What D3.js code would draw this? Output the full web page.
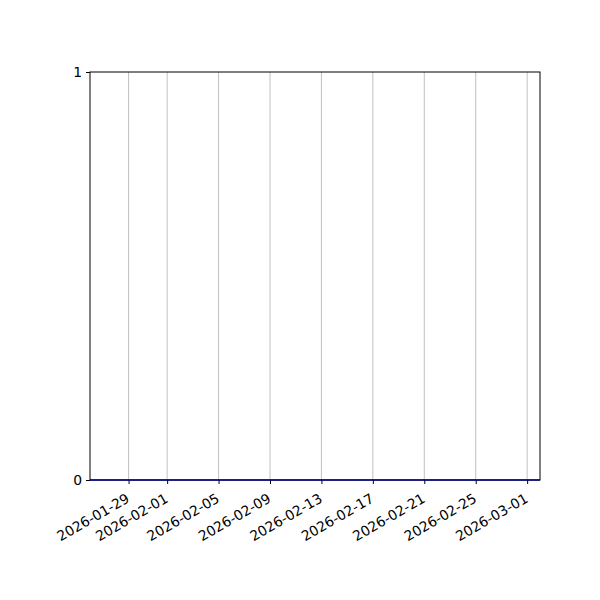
<!DOCTYPE html>
<html>
<meta charset="UTF-8">
<script src="https://d3js.org/d3.v7.min.js"></script>
<style>
  body { margin: 0; background: white; }
  text { font-family: "DejaVu Sans", sans-serif; }
</style>
<body>
<svg id="viz" width="600" height="600"></svg>
<script>
// daily series, all zero
var dates = ["2026-01-26","2026-01-27","2026-01-28","2026-01-29","2026-01-30","2026-01-31",
  "2026-02-01","2026-02-02","2026-02-03","2026-02-04","2026-02-05","2026-02-06","2026-02-07",
  "2026-02-08","2026-02-09","2026-02-10","2026-02-11","2026-02-12","2026-02-13","2026-02-14",
  "2026-02-15","2026-02-16","2026-02-17","2026-02-18","2026-02-19","2026-02-20","2026-02-21",
  "2026-02-22","2026-02-23","2026-02-24","2026-02-25","2026-02-26","2026-02-27","2026-02-28",
  "2026-03-01","2026-03-02"];
var values = [0,0,0,0,0,0,0,0,0,0,0,0,0,0,0,0,0,0,0,0,0,0,0,0,0,0,0,0,0,0,0,0,0,0,0,0];
var xTicks = ["2026-01-29","2026-02-01","2026-02-05","2026-02-09","2026-02-13",
  "2026-02-17","2026-02-21","2026-02-25","2026-03-01"];
var yTicks = [0, 1];

var parse = d3.utcParse("%Y-%m-%d");
var fmt = d3.utcFormat("%Y-%m-%d");
var padL = 90, padR = 540, padT = 72, padB = 480;

var x = d3.scaleUtc()
  .domain([parse(dates[0]), parse(dates[dates.length - 1])])
  .range([padL, padR]);
var y = d3.scaleLinear().domain([0, 1]).range([padB, padT]);

var svg = d3.select("#viz");

// vertical grid
svg.append("g").selectAll("line")
  .data(xTicks)
  .enter().append("line")
  .attr("x1", function(d){ return x(parse(d)); })
  .attr("x2", function(d){ return x(parse(d)); })
  .attr("y1", padT).attr("y2", padB)
  .attr("stroke", "#b0b0b0").attr("stroke-width", 0.8);

var xAxis = d3.axisBottom(x)
  .tickValues(xTicks.map(parse))
  .tickFormat(fmt)
  .tickSize(4).tickPadding(3);
var gx = svg.append("g")
  .attr("transform", "translate(0," + padB + ")")
  .call(xAxis);
gx.select(".domain").remove();
gx.selectAll("line").attr("stroke", "black");
gx.selectAll("text")
  .attr("font-size", 13.9)
  .attr("fill", "black")
  .attr("text-anchor", "end")
  .attr("dy", "0.35em")
  .attr("y", 0).attr("x", 0)
  .attr("transform", "translate(-1,17) rotate(-30)");

var yAxis = d3.axisLeft(y)
  .tickValues(yTicks)
  .tickFormat(d3.format("d"))
  .tickSize(4).tickPadding(4);
var gy = svg.append("g")
  .attr("transform", "translate(" + padL + ",0)")
  .call(yAxis);
gy.select(".domain").remove();
gy.selectAll("line").attr("stroke", "black");
gy.selectAll("text").attr("font-size", 13.9).attr("fill", "black");

// the line
var line = d3.line()
  .x(function(d, i){ return x(parse(dates[i])); })
  .y(function(d){ return y(d); });
svg.append("path")
  .datum(values)
  .attr("d", line)
  .attr("fill", "none")
  .attr("stroke", "#0000ff")
  .attr("stroke-width", 1.5);

// frame
svg.append("rect")
  .attr("x", padL).attr("y", padT)
  .attr("width", padR - padL).attr("height", padB - padT)
  .attr("fill", "none").attr("stroke", "black").attr("stroke-width", 1);
</script>
</body>
</html>
